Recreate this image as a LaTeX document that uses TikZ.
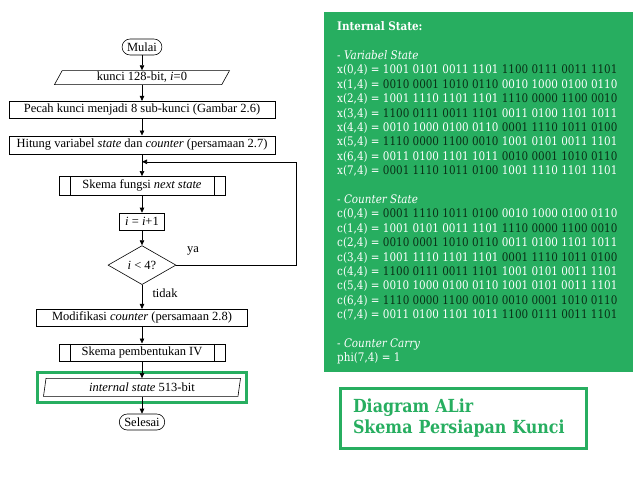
\documentclass[tikz,border=0pt]{standalone}
\usepackage{fontspec}
\setmainfont{Liberation Serif}
\newfontfamily\panelfont[FakeStretch=0.88]{DejaVu Serif}
\usetikzlibrary{positioning, arrows.meta, calc, fit, shapes.geometric}
\definecolor{flatgreen}{HTML}{27AE60}
\definecolor{inkgreen}{HTML}{0A2E16}
\newcommand{\darkbits}[1]{\textcolor{inkgreen}{#1}}

\begin{document}
\begin{tikzpicture}[
    x=1pt, y=-1pt,
    font=\fontsize{12.5}{14}\selectfont,
    every node/.style={align=center},
    terminal/.style={
        draw, line width=0.6pt, fill=white, rounded corners=8pt,
        minimum height=16pt, inner xsep=5pt, inner ysep=0pt
    },
    process/.style={
        draw, line width=0.6pt, fill=white, minimum height=17pt, inner sep=0pt
    },
    subproc/.style={
        process,
        path picture={
            \draw[line width=0.6pt]
              ([xshift=11pt]path picture bounding box.north west) -- ([xshift=11pt]path picture bounding box.south west)
              ([xshift=-11pt]path picture bounding box.north east) -- ([xshift=-11pt]path picture bounding box.south east);
        }
    },
    io/.style={
        draw, trapezium, trapezium stretches body, line width=0.6pt,
        fill=white, inner sep=0pt
    },
    decision/.style={
        draw, diamond, line width=0.6pt, fill=white, inner sep=0pt,
        minimum width=68pt, minimum height=39pt
    },
    arrow/.style={-{Triangle[length=5pt, width=4.5pt]}, line width=0.6pt},
    lbl/.style={font=\fontsize{12.5}{14}\selectfont},
    panel/.style={fill=flatgreen, inner sep=0pt, anchor=north west},
    paneltext/.style={
        text=white, align=left, inner sep=0pt, anchor=north west,
        font=\panelfont\fontsize{11.8}{14.4}\selectfont
    },
    titlebox/.style={
        draw=flatgreen, line width=3pt, text=flatgreen, align=left,
        text width=221pt, inner xsep=12.5pt, minimum height=60pt,
        font=\panelfont\bfseries\fontsize{18}{21}\selectfont
    }
]
\useasboundingbox (0,0) rectangle (640,480);

% flowchart
\node[terminal] (mulai) at (142,47) {Mulai};
\node[io, trapezium left angle=54, trapezium right angle=126,
      minimum width=175pt, minimum height=14pt, below=15pt of mulai] (kunci) {kunci 128-bit, \textit{i}=0};
\node[process, minimum width=266pt, below=16pt of kunci] (pecah) {Pecah kunci menjadi 8 sub-kunci (Gambar 2.6)};
\node[process, minimum width=266pt, minimum height=18pt, below=17pt of pecah] (hitung)
     {Hitung variabel \textit{state} dan \textit{counter} (persamaan 2.7)};
\node[subproc, minimum width=166pt, minimum height=19pt, below=22pt of hitung] (nextst) {Skema fungsi \textit{next state}};
\node[process, minimum width=45pt, below=17pt of nextst] (inc) {\textit{i} = \textit{i}+1};
\node[decision, below=15pt of inc] (cek) {\textit{i} {\textless} 4?};
\node[process, minimum width=211pt, below=24pt of cek] (modif) {Modifikasi \textit{counter} (persamaan 2.8)};
\node[subproc, minimum width=166pt, below=17pt of modif] (skiv) {Skema pembentukan IV};
\node[io, trapezium left angle=74, trapezium right angle=106,
      minimum width=197pt, minimum height=18pt, below=17pt of skiv] (intst) {\textit{internal state} 513-bit};
\node[terminal, below=17pt of intst] (selesai) {Selesai};

\node[draw=flatgreen, line width=3pt, inner xsep=7pt, inner ysep=6pt, fit=(intst)] (sorot) {};

\coordinate (back) at ($(hitung.south)!0.35!(nextst.north)$);

\draw[arrow] (mulai.south)  -- (kunci.north);
\draw[arrow] (kunci.south)  -- (pecah.north);
\draw[arrow] (pecah.south)  -- (hitung.north);
\draw[arrow] (hitung.south) -- (nextst.north);
\draw[arrow] (nextst.south) -- (inc.north);
\draw[arrow] (inc.south)    -- (cek.north);
\draw[arrow] (cek.south)    -- (modif.north);
\draw[arrow] (modif.south)  -- (skiv.north);
\draw[arrow] (skiv.south)   -- (intst.north);
\draw[arrow] (intst.south)  -- (selesai.north);
\draw[arrow] (cek.east) -- ++(120,0) |- (back);

\node[lbl] (ya) at (193,251) {ya};
\node[lbl] (tidak) at (165,293) {tidak};

% internal state panel
\node[panel, minimum width=309pt, minimum height=360pt] (box) at (324,12) {};
\node[paneltext] (state) at (337,21.5) {%
    {\bfseries Internal State:}\\[14.4pt]
    - \textit{Variabel State}\\
    x(0,4) = 1001 0101 0011 1101 \darkbits{1100 0111 0011 1101}\\
    x(1,4) = \darkbits{0010 0001 1010 0110} 0010 1000 0100 0110\\
    x(2,4) = 1001 1110 1101 1101 \darkbits{1110 0000 1100 0010}\\
    x(3,4) = \darkbits{1100 0111 0011 1101} 0011 0100 1101 1011\\
    x(4,4) = 0010 1000 0100 0110 \darkbits{0001 1110 1011 0100}\\
    x(5,4) = \darkbits{1110 0000 1100 0010} 1001 0101 0011 1101\\
    x(6,4) = 0011 0100 1101 1011 \darkbits{0010 0001 1010 0110}\\
    x(7,4) = \darkbits{0001 1110 1011 0100} 1001 1110 1101 1101\\[14.4pt]
    - \textit{Counter State}\\
    c(0,4) = \darkbits{0001 1110 1011 0100} 0010 1000 0100 0110\\
    c(1,4) = 1001 0101 0011 1101 \darkbits{1110 0000 1100 0010}\\
    c(2,4) = \darkbits{0010 0001 1010 0110} 0011 0100 1101 1011\\
    c(3,4) = 1001 1110 1101 1101 \darkbits{0001 1110 1011 0100}\\
    c(4,4) = \darkbits{1100 0111 0011 1101} 1001 0101 0011 1101\\
    c(5,4) = 0010 1000 0100 0110 1001 0101 0011 1101\\
    c(6,4) = \darkbits{1110 0000 1100 0010 0010 0001 1010 0110}\\
    c(7,4) = 0011 0100 1101 1011 \darkbits{1100 0111 0011 1101}\\[14.4pt]
    - \textit{Counter Carry}\\
    phi(7,4) = 1};

\node[titlebox] (judul) at (463.5,418.5) {Diagram ALir\\Skema Persiapan Kunci};

\end{tikzpicture}
\end{document}
